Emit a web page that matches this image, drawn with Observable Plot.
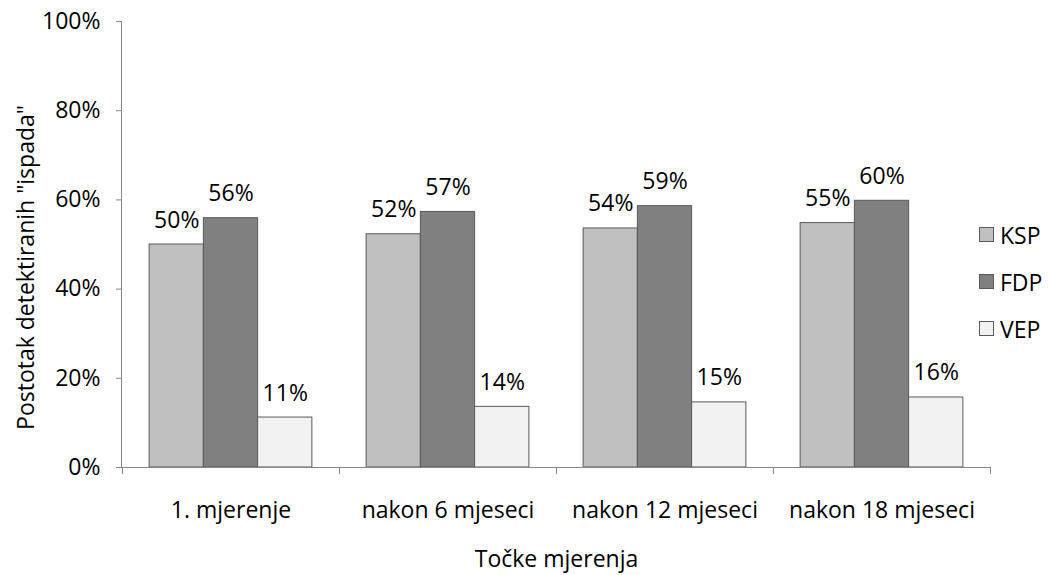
<!DOCTYPE html>
<html><head><meta charset="utf-8">
<script src="https://cdn.jsdelivr.net/npm/d3@7"></script>
<script src="https://cdn.jsdelivr.net/npm/@observablehq/plot@0.6"></script>
<style>
body{margin:0;background:#fff;font-family:"Open Sans",sans-serif;}
#wrap{position:relative;width:1053px;height:575px;}
#legend{position:absolute;left:979px;top:211px;font-size:23px;color:#000;}
.item{display:flex;align-items:center;height:47px;}
.sw{width:13px;height:13px;border:1px solid #595959;margin-right:6px;}
</style></head><body><div id="wrap"></div>
<script>
const groups = ["1. mjerenje", "nakon 6 mjeseci", "nakon 12 mjeseci", "nakon 18 mjeseci"];
const series = ["KSP", "FDP", "VEP"];
const colors = ["#c0c0c0", "#808080", "#f2f2f2"];
const ksp = [0.500, 0.523, 0.536, 0.548];
const fdp = [0.559, 0.573, 0.586, 0.598];
const vep = [0.112, 0.136, 0.146, 0.157];
const yTicks = [0, 0.2, 0.4, 0.6, 0.8, 1];
const yTitle = "Postotak detektiranih \"ispada\"";
const xTitle = "Točke mjerenja";

const valuesBySeries = [ksp, fdp, vep];
const data = [];
groups.forEach((g, gi) => series.forEach((s, si) => {
  data.push({group: g, series: s, value: valuesBySeries[si][gi], x1: gi + 0.125 + si * 0.25, x2: gi + 0.125 + (si + 1) * 0.25});
}));
const pct = d3.format(".0%");
const axisGray = "#868686";
const fs = 23;

const chart = Plot.plot({
  width: 1053, height: 575,
  marginLeft: 122, marginRight: 63, marginTop: 21, marginBottom: 108,
  style: {fontFamily: "'Open Sans', sans-serif", fontSize: fs + "px", color: "#000", background: "#fff"},
  x: {domain: [0, groups.length], axis: null},
  y: {domain: [0, 1], axis: null},
  color: {domain: series, range: colors},
  marks: [
    Plot.rectY(data, {x1: "x1", x2: "x2", y: "value", fill: "series", stroke: "#595959", strokeWidth: 1}),
    Plot.text(data, {x: d => (d.x1 + d.x2) / 2, y: "value", text: d => pct(d.value), lineAnchor: "bottom", dy: -17, fontSize: fs}),
    Plot.ruleY([0], {stroke: axisGray}),
    Plot.ruleX([0], {stroke: axisGray, dx: -1}),
    Plot.axisY({ticks: yTicks, tickFormat: pct, tickSize: 6, tickPadding: 16, stroke: axisGray, fill: "#000", fontSize: fs, label: null}),
    Plot.axisX({ticks: d3.range(groups.length + 1), tickSize: 7, tickFormat: () => "", stroke: axisGray, label: null}),
    Plot.axisX({ticks: groups.map((_, i) => i + 0.5), tickSize: 0, tickPadding: 34, tickFormat: d => groups[Math.floor(d)], fill: "#000", fontSize: fs, label: null}),
    Plot.text([yTitle], {frameAnchor: "left", textAnchor: "middle", rotate: -90, dx: -96, dy: 23, fontSize: fs, lineAnchor: "middle"}),
    Plot.text([xTitle], {frameAnchor: "bottom", dy: 92, fontSize: fs, lineAnchor: "middle"})
  ]
});
const wrap = document.getElementById("wrap");
wrap.appendChild(chart);
const legend = document.createElement("div");
legend.id = "legend";
series.forEach((s, i) => {
  const item = document.createElement("div");
  item.className = "item";
  const sw = document.createElement("span");
  sw.className = "sw";
  sw.style.background = colors[i];
  const t = document.createElement("span");
  t.textContent = s;
  item.appendChild(sw); item.appendChild(t);
  legend.appendChild(item);
});
wrap.appendChild(legend);
</script></body></html>
